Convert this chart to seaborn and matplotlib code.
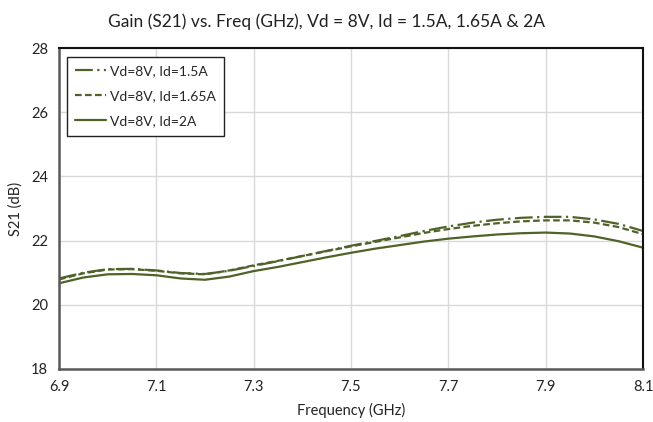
import numpy as np
import pandas as pd
import seaborn as sns
import matplotlib
matplotlib.use("Agg")
import matplotlib.pyplot as plt
from matplotlib.lines import Line2D

freq = [6.90, 6.95, 7.00, 7.05, 7.10, 7.15, 7.20, 7.25, 7.30, 7.35, 7.40, 7.45, 7.50,
        7.55, 7.60, 7.65, 7.70, 7.75, 7.80, 7.85, 7.90, 7.95, 8.00, 8.05, 8.10]
s21_15 = [20.82, 21.00, 21.11, 21.12, 21.07, 20.99, 20.96, 21.06, 21.21, 21.36, 21.52, 21.68, 21.84,
          21.99, 22.14, 22.30, 22.44, 22.56, 22.65, 22.71, 22.74, 22.74, 22.66, 22.52, 22.30]
s21_165 = [20.79, 20.98, 21.10, 21.11, 21.06, 20.98, 20.95, 21.07, 21.23, 21.37, 21.52, 21.67, 21.82,
           21.96, 22.10, 22.24, 22.36, 22.46, 22.54, 22.60, 22.63, 22.63, 22.56, 22.42, 22.20]
s21_2 = [20.67, 20.85, 20.95, 20.96, 20.92, 20.82, 20.78, 20.88, 21.05, 21.18, 21.33, 21.48, 21.62,
         21.75, 21.86, 21.97, 22.06, 22.13, 22.19, 22.23, 22.25, 22.22, 22.13, 21.98, 21.78]
labels = ["Vd=8V, Id=1.5A", "Vd=8V, Id=1.65A", "Vd=8V, Id=2A"]
xticks = [6.9, 7.1, 7.3, 7.5, 7.7, 7.9, 8.1]
yticks = [18, 20, 22, 24, 26, 28]

sns.set_style("white")
plt.rcParams['font.family'] = ['Lato', 'DejaVu Sans']

df = pd.DataFrame({
    "freq": freq * 3,
    "s21": s21_15 + s21_165 + s21_2,
    "series": [labels[0]] * len(freq) + [labels[1]] * len(freq) + [labels[2]] * len(freq),
})

color = "#4F6228"
fig = plt.figure(figsize=(6.53, 4.22), dpi=100)
ax = fig.add_axes([59 / 653, 1 - 369 / 422, (643 - 59) / 653, (369 - 48) / 422])

sns.lineplot(data=df, x="freq", y="s21", hue="series", style="series",
             palette=[color] * 3,
             dashes=[(8, 2, 1, 2), (3, 1.5), ""],
             linewidth=1.6, ax=ax, legend=False)

handles = [Line2D([], [], color=color, lw=1.6, dashes=(8, 2, 1, 2)),
           Line2D([], [], color=color, lw=1.6, dashes=(3, 1.5)),
           Line2D([], [], color=color, lw=1.6)]
leg = ax.legend(handles, labels, loc="upper left", bbox_to_anchor=(0.002, 0.995),
                frameon=True, fancybox=False, framealpha=1, edgecolor="#222222",
                fontsize=10, handlelength=2.2, handletextpad=0.3, borderpad=0.6,
                labelspacing=0.95)
leg.get_frame().set_linewidth(1.0)

ax.set_xlim(6.9, 8.1)
ax.set_ylim(18, 28)
ax.set_xticks(xticks)
ax.set_yticks(yticks)
ax.set_xticklabels([f"{v:.1f}" for v in xticks], fontsize=10.5, color="#222222")
ax.set_yticklabels([str(v) for v in yticks], fontsize=10.5, color="#222222")
ax.tick_params(axis="both", length=0, pad=8)
ax.grid(True, color="#d9d9d9", linewidth=1)
for side in ["left", "bottom"]:
    ax.spines[side].set_color("#595959")
    ax.spines[side].set_linewidth(1.8)
for side in ["top", "right"]:
    ax.spines[side].set_color("#111111")
    ax.spines[side].set_linewidth(1.5)

ax.set_xlabel("Frequency (GHz)", fontsize=10.5, color="#222222", labelpad=6)
ax.set_ylabel("S21 (dB)", fontsize=10.5, color="#222222", labelpad=6)
fig.suptitle("Gain (S21) vs. Freq (GHz), Vd = 8V, Id = 1.5A, 1.65A & 2A",
             fontsize=12.5, y=1 - 22 / 422, va="center", color="#222222")

fig.savefig("out.png", dpi=100)
